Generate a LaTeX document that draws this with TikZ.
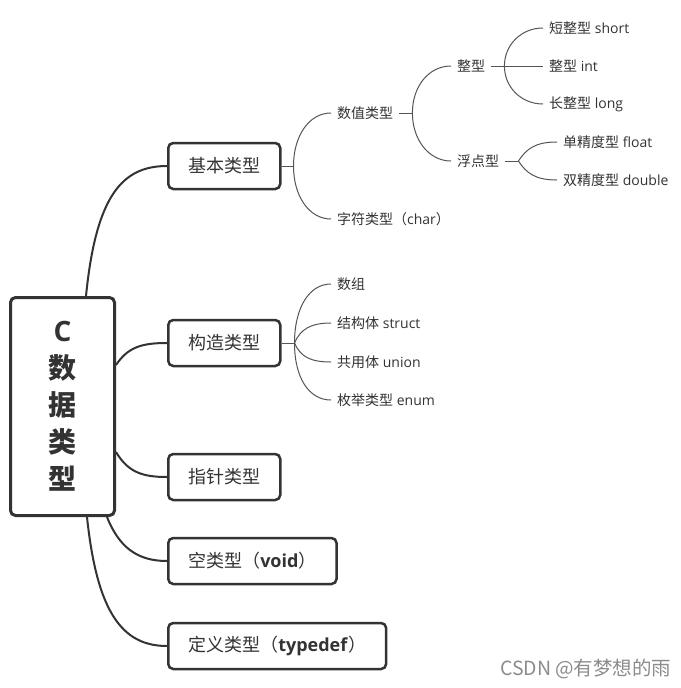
\documentclass[tikz,border=0pt]{standalone}
\usepackage{fontspec}
\setmainfont{Open Sans}
\newfontfamily\cjk{Noto Sans CJK SC}
\usetikzlibrary{calc}
\definecolor{dk}{HTML}{333333}
\definecolor{ln}{HTML}{555555}
\definecolor{wm}{HTML}{8C8C8C}
\begin{document}
\begin{tikzpicture}[x=1pt,y=-1pt,
  rootbox/.style={draw=dk, line width=3pt, rounded corners=5pt, minimum width=104pt, minimum height=218pt, align=center, font=\fontsize{28}{37}\selectfont\bfseries, text=dk},
  topicbox/.style={draw=dk, line width=2.5pt, rounded corners=5pt, minimum height=46pt, inner xsep=20pt, anchor=west, font=\fontsize{18}{22}\selectfont, text=dk},
  leaf/.style={anchor=west, inner xsep=6pt, inner ysep=2pt, font=\fontsize{14}{16}\selectfont, text=dk},
  mainlink/.style={draw=dk, line width=2pt},
  sublink/.style={draw=ln, line width=1pt},
  wmark/.style={anchor=east, text=wm, font=\cjk\fontsize{19.5}{22}\selectfont}
]
\fill[white] (0,0) rectangle (680,688);
\useasboundingbox (0,0) rectangle (680,688);

% root
\node[rootbox] (root) at (62.5,406.5) {C\\{\cjk 数}\\{\cjk 据}\\{\cjk 类}\\{\cjk 型}};

% level 1
\node[topicbox] (jb) at (167,166) {\cjk 基本类型};
\node[topicbox] (gz) at (167,343) {\cjk 构造类型};
\node[topicbox] (zz) at (167,477) {\cjk 指针类型};
\node[topicbox] (kl) at (167,561) {{\cjk 空类型（}\textbf{void}{\cjk ）}};
\node[topicbox] (dy) at (167,646) {{\cjk 定义类型（}\textbf{typedef}{\cjk ）}};

\draw[mainlink] ($(root.north)+(23.5,0)$) .. controls +(10,-100) and +(-45,0) .. (jb.west);
\draw[mainlink] ($(root.east)+(0,-41.5)$) .. controls +(12,-18) and +(-25,0) .. (gz.west);
\draw[mainlink] ($(root.east)+(0,45.5)$) .. controls +(12,20) and +(-25,0) .. (zz.west);
\draw[mainlink] ($(root.south)+(44.5,0)$) .. controls +(12,30) and +(-30,0) .. (kl.west);
\draw[mainlink] ($(root.south)+(24.5,0)$) .. controls +(10,95) and +(-45,0) .. (dy.west);

% level 2 under 基本类型
\node[leaf] (sz) at (331,113) {\cjk 数值类型};
\node[leaf] (zf) at (331,219) {{\cjk 字符类型（}char{\cjk ）}};
\node[leaf] (zx) at (451,66) {\cjk 整型};
\node[leaf] (fd) at (451,161) {\cjk 浮点型};
\node[leaf] (dz) at (543,28) {{\cjk 短整型} short};
\node[leaf] (zi) at (543,66) {{\cjk 整型} int};
\node[leaf] (cz) at (543,104) {{\cjk 长整型} long};
\node[leaf] (dj) at (557,142) {{\cjk 单精度型} float};
\node[leaf] (sj) at (557,180) {{\cjk 双精度型} double};

\draw[sublink] (jb.east) -- ++(12,0) coordinate (b1);
\draw[sublink] (b1) .. controls +(0,-30) and +(-22,0) .. (sz.west);
\draw[sublink] (b1) .. controls +(0,30) and +(-22,0) .. (zf.west);

\draw[sublink] (sz.east) -- ++(13,0) coordinate (b2);
\draw[sublink] (b2) .. controls +(0,-27) and +(-22,0) .. (zx.west);
\draw[sublink] (b2) .. controls +(0,27) and +(-22,0) .. (fd.west);

\draw[sublink] (zx.east) -- (zi.west);
\coordinate (b3) at ($(zx.east)+(13,0)$);
\draw[sublink] (b3) .. controls +(0,-21) and +(-22,0) .. (dz.west);
\draw[sublink] (b3) .. controls +(0,21) and +(-22,0) .. (cz.west);

\draw[sublink] (fd.east) -- ++(13,0) coordinate (b4);
\draw[sublink] (b4) .. controls +(8,-12) and +(-22,0) .. (dj.west);
\draw[sublink] (b4) .. controls +(8,12) and +(-22,0) .. (sj.west);

% level 2 under 构造类型
\node[leaf] (sg) at (331,284) {\cjk 数组};
\node[leaf] (jg) at (331,323) {{\cjk 结构体} struct};
\node[leaf] (gy) at (331,362) {{\cjk 共用体} union};
\node[leaf] (mj) at (331,400) {{\cjk 枚举类型} enum};

\draw[sublink] (gz.east) -- ++(13,0) coordinate (b5);
\draw[sublink] (b5) .. controls +(0,-35) and +(-22,0) .. (sg.west);
\draw[sublink] (b5) .. controls +(6,-14) and +(-20,0) .. (jg.west);
\draw[sublink] (b5) .. controls +(6,14) and +(-20,0) .. (gy.west);
\draw[sublink] (b5) .. controls +(0,35) and +(-22,0) .. (mj.west);

% watermark
\node[wmark] (wmk) at (675,669) {CSDN @有梦想的雨};
\end{tikzpicture}
\end{document}
